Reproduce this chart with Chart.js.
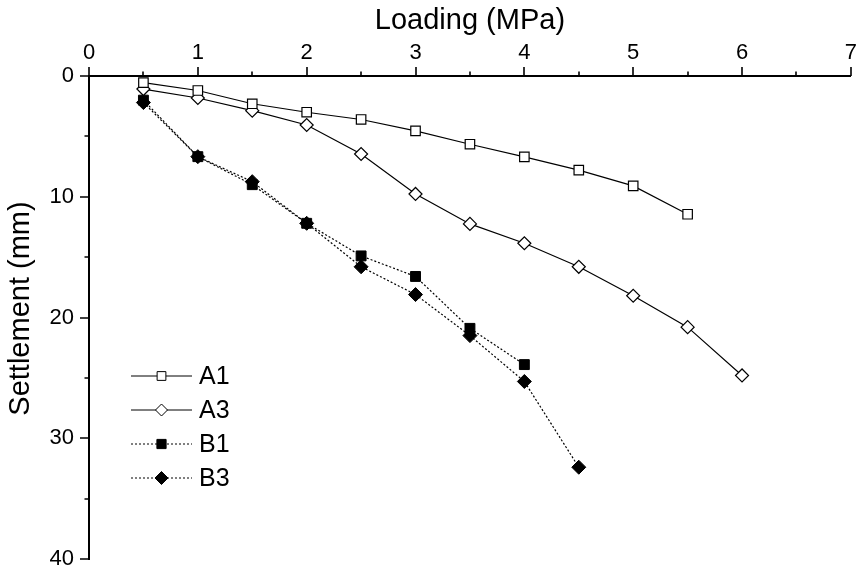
<!DOCTYPE html>
<html>
<head>
<meta charset="utf-8">
<script src="https://cdn.jsdelivr.net/npm/chart.js"></script>
<style>
  html, body { margin: 0; padding: 0; background: #fff; }
</style>
</head>
<body>
<canvas id="settleChart" width="858" height="572"></canvas>
<script>
// Loading steps (MPa) and settlement readings (mm) per test
const loadA1 = [0.5, 1, 1.5, 2, 2.5, 3, 3.5, 4, 4.5, 5, 5.5];
const settleA1 = [0.55, 1.2, 2.3, 3.0, 3.6, 4.55, 5.65, 6.7, 7.8, 9.1, 11.45];

const loadA3 = [0.5, 1, 1.5, 2, 2.5, 3, 3.5, 4, 4.5, 5, 5.5, 6];
const settleA3 = [1.08, 1.82, 2.87, 4.06, 6.46, 9.77, 12.25, 13.85, 15.8, 18.2, 20.8, 24.8];

const loadB1 = [0.5, 1, 1.5, 2, 2.5, 3, 3.5, 4];
const settleB1 = [2.0, 6.68, 9.0, 12.2, 14.9, 16.6, 20.9, 23.9];

const loadB3 = [0.5, 1, 1.5, 2, 2.5, 3, 3.5, 4, 4.5];
const settleB3 = [2.2, 6.68, 8.75, 12.2, 15.8, 18.1, 21.5, 25.3, 32.4];

const FONT = '"Liberation Sans", Arial, sans-serif';

function pairs(xs, ys) {
  return xs.map((x, i) => ({ x: x, y: ys[i] }));
}

// same geometry Chart.js uses for 'rect' / 'rectRot'
function drawMarker(ctx, style, x, y, r, fill, bw) {
  ctx.beginPath();
  if (style === 'rect') {
    const s = Math.SQRT1_2 * r;
    ctx.rect(x - s, y - s, 2 * s, 2 * s);
  } else {
    ctx.moveTo(x, y - r);
    ctx.lineTo(x + r, y);
    ctx.lineTo(x, y + r);
    ctx.lineTo(x - r, y);
    ctx.closePath();
  }
  ctx.fillStyle = fill;
  ctx.fill();
  ctx.lineWidth = bw;
  ctx.strokeStyle = '#000';
  ctx.stroke();
}

// outward major/minor tick marks on both axes, plus the y title
const axisTicks = {
  id: 'axisTicks',
  afterDraw(chart) {
    const ctx = chart.ctx;
    const xs = chart.scales.x, ys = chart.scales.y;
    ctx.save();
    ctx.strokeStyle = '#000';
    ctx.lineWidth = 1.6;
    ctx.beginPath();
    for (let v = xs.min; v <= xs.max + 1e-9; v += 0.5) {
      const px = Math.round(xs.getPixelForValue(v));
      const len = Number.isInteger(v) ? 9 : 4.5;
      ctx.moveTo(px, ys.top);
      ctx.lineTo(px, ys.top - len);
    }
    for (let v = ys.min; v <= ys.max + 1e-9; v += 5) {
      const py = Math.round(ys.getPixelForValue(v));
      const len = v % 10 === 0 ? 9 : 4.5;
      ctx.moveTo(xs.left, py);
      ctx.lineTo(xs.left - len, py);
    }
    ctx.stroke();

    // y title sits a little above the axis centre in the original
    ctx.translate(20.5, (ys.top + ys.bottom) / 2 - 9);
    ctx.rotate(-Math.PI / 2);
    ctx.fillStyle = '#000';
    ctx.font = '29px ' + FONT;
    ctx.textAlign = 'center';
    ctx.textBaseline = 'middle';
    ctx.fillText('Settlement (mm)', 0, 0);
    ctx.restore();
  }
};

// legend drawn inside the plot: line + marker + label
const inlineLegend = {
  id: 'inlineLegend',
  afterDraw(chart) {
    const ctx = chart.ctx;
    const area = chart.chartArea;
    chart.data.datasets.forEach((ds, i) => {
      const y = area.top + 300 + i * 34;
      const x0 = area.left + 42, x1 = x0 + 61, xm = (x0 + x1) / 2;
      ctx.save();
      ctx.strokeStyle = '#000';
      ctx.lineWidth = 1;
      ctx.setLineDash(ds.borderDash || []);
      ctx.beginPath();
      ctx.moveTo(x0, y);
      ctx.lineTo(x1, y);
      ctx.stroke();
      ctx.setLineDash([]);
      drawMarker(ctx, ds.pointStyle, xm, y, ds.pointRadius - 0.5, ds.pointBackgroundColor, 1);
      ctx.fillStyle = '#000';
      ctx.font = '25px ' + FONT;
      ctx.textBaseline = 'middle';
      ctx.fillText(ds.label, x1 + 7, y + 1);
      ctx.restore();
    });
  }
};

const solid = [];
const dotted = [2, 2];

new Chart(document.getElementById('settleChart'), {
  type: 'scatter',
  data: {
    datasets: [
      { label: 'A1', data: pairs(loadA1, settleA1), showLine: true, borderColor: '#000', borderWidth: 1.2,
        borderDash: solid, pointStyle: 'rect', pointRadius: 6.7, pointBackgroundColor: '#fff',
        pointBorderColor: '#000', pointBorderWidth: 1.2 },
      { label: 'A3', data: pairs(loadA3, settleA3), showLine: true, borderColor: '#000', borderWidth: 1.2,
        borderDash: solid, pointStyle: 'rectRot', pointRadius: 6.5, pointBackgroundColor: '#fff',
        pointBorderColor: '#000', pointBorderWidth: 1.2 },
      { label: 'B1', data: pairs(loadB1, settleB1), showLine: true, borderColor: '#000', borderWidth: 1.2,
        borderDash: dotted, pointStyle: 'rect', pointRadius: 7, pointBackgroundColor: '#000',
        pointBorderColor: '#000', pointBorderWidth: 1 },
      { label: 'B3', data: pairs(loadB3, settleB3), showLine: true, borderColor: '#000', borderWidth: 1.2,
        borderDash: dotted, pointStyle: 'rectRot', pointRadius: 7, pointBackgroundColor: '#000',
        pointBorderColor: '#000', pointBorderWidth: 1 }
    ]
  },
  options: {
    responsive: false,
    animation: false,
    layout: { autoPadding: false, padding: { left: 0, top: 0, right: 7, bottom: 13 } },
    plugins: {
      legend: { display: false },
      tooltip: { enabled: false }
    },
    scales: {
      x: {
        type: 'linear',
        position: 'top',
        min: 0,
        max: 7,
        afterFit(scale) { scale.height = 76; },
        // tick marks themselves come from the axisTicks plugin; tickLength only spaces the labels
        ticks: { stepSize: 1, color: '#000', padding: 1, font: { family: FONT, size: 22 } },
        grid: { display: false, drawTicks: true, tickLength: 9 },
        border: { display: true, color: '#000', width: 2 },
        title: { display: true, text: 'Loading (MPa)', color: '#000',
                 font: { family: FONT, size: 29, lineHeight: 1.2 }, padding: { top: 4, bottom: 0 } }
      },
      y: {
        type: 'linear',
        reverse: true,
        min: 0,
        max: 40,
        afterFit(scale) { scale.width = 89; },
        ticks: { stepSize: 10, color: '#000', padding: 0, font: { family: FONT, size: 22, lineHeight: 1 } },
        grid: { display: false, drawTicks: true, tickLength: 15 },
        border: { display: true, color: '#000', width: 2 },
        title: { display: false }
      }
    }
  },
  plugins: [axisTicks, inlineLegend]
});
</script>
</body>
</html>
